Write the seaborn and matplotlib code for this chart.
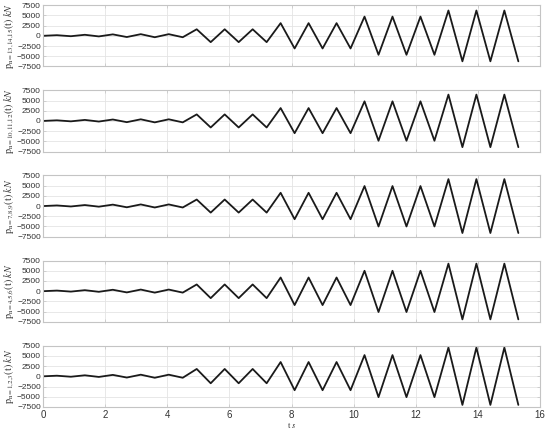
import numpy as np
import pandas as pd
from matplotlib import pyplot as plt
import seaborn as sns

# vertex times (s)
t = [0.0, 0.45, 0.9, 1.35, 1.8, 2.25, 2.7, 3.15, 3.6, 4.05, 4.5,
     4.95, 5.4, 5.85, 6.3, 6.75, 7.2,
     7.65, 8.1, 8.55, 9.0, 9.45, 9.9,
     10.35, 10.8, 11.25, 11.7, 12.15, 12.6,
     13.05, 13.5, 13.95, 14.4, 14.85, 15.3]

# small cycles at the start (kN)
start = [0, 150, -100, 250, -150, 350, -300, 400, -350, 400, -350]

p_13_14_15 = start + [1600, -1550, 1600, -1550, 1600, -1550,
                      3100, -3100, 3100, -3100, 3100, -3100,
                      4700, -4650, 4700, -4650, 4700, -4650,
                      6200, -6250, 6200, -6250, 6200, -6250]
p_10_11_12 = start + [1600, -1600, 1600, -1600, 1600, -1600,
                      3150, -3000, 3150, -3000, 3150, -3000,
                      4800, -4850, 4800, -4850, 4800, -4850,
                      6450, -6420, 6450, -6420, 6450, -6420]
p_7_8_9 = start + [1600, -1600, 1600, -1600, 1600, -1600,
                   3250, -3220, 3250, -3220, 3250, -3220,
                   4900, -5000, 4900, -5000, 4900, -5000,
                   6600, -6600, 6600, -6600, 6600, -6600]
p_4_5_6 = start + [1650, -1700, 1650, -1700, 1650, -1700,
                   3350, -3400, 3350, -3400, 3350, -3400,
                   5000, -5100, 5000, -5100, 5000, -5100,
                   6750, -6900, 6750, -6900, 6750, -6900]
p_1_2_3 = start + [1800, -1700, 1800, -1700, 1800, -1700,
                   3500, -3400, 3500, -3400, 3500, -3400,
                   5200, -5100, 5200, -5100, 5200, -5100,
                   7050, -7000, 7050, -7000, 7050, -7000]

panels = [("13{,}14{,}15", p_13_14_15), ("10{,}11{,}12", p_10_11_12),
          ("7{,}8{,}9", p_7_8_9), ("4{,}5{,}6", p_4_5_6), ("1{,}2{,}3", p_1_2_3)]

yticks = [-7500, -5000, -2500, 0, 2500, 5000, 7500]
xticks = [0, 2, 4, 6, 8, 10, 12, 14, 16]

sns.set_theme(style="whitegrid")
plt.rcParams['font.family'] = ['Liberation Sans', 'DejaVu Sans']
plt.rcParams['mathtext.fontset'] = 'stix'

fig, axes = plt.subplots(5, 1, figsize=(5.5, 4.32), dpi=100)
fig.subplots_adjust(left=0.078, right=0.982, top=0.988, bottom=0.058, hspace=0.39)

for ax, (name, vals) in zip(axes, panels):
    df = pd.DataFrame({"t": t, "p": vals})
    sns.lineplot(data=df, x="t", y="p", ax=ax, color="#1a1a1a", lw=1.3)
    ax.set_xlim(0, 16)
    ax.set_ylim(-7500, 7500)
    ax.set_xticks(xticks)
    ax.set_yticks(yticks)
    ax.grid(True, color="#e4e4e4", lw=0.6)
    for s in ax.spines.values():
        s.set_color("#c4c4c4")
        s.set_linewidth(0.8)
    ax.tick_params(direction="in", length=2, width=0.5, colors="#c4c4c4",
                   labelcolor="#333333", labelsize=6, pad=1.5,
                   top=True, right=True, left=True, bottom=True)
    ax.set_xlabel("")
    ax.set_ylabel(r"$\mathrm{p}_{\mathrm{n=" + name + r"}}\mathrm{(t)}\ \mathit{kN}$",
                  fontsize=7.2, labelpad=1, color="#333333")
    if ax is not axes[-1]:
        ax.set_xticklabels([])

axes[-1].tick_params(axis="x", labelsize=7, pad=2)
axes[-1].set_xlabel(r"$\mathrm{t}\ \mathit{s}$", fontsize=6, labelpad=0, color="#333333")

plt.savefig("out.png", dpi=100)
